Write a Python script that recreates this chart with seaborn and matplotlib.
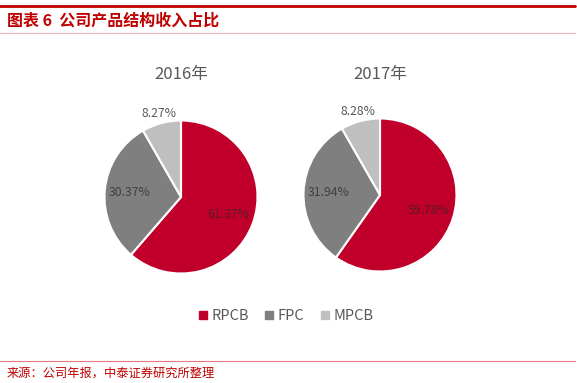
import seaborn as sns
import matplotlib.pyplot as plt
from matplotlib.lines import Line2D
import numpy as np

# Data
years = ["2016年", "2017年"]
segments = ["RPCB", "FPC", "MPCB"]
share_2016 = [61.37, 30.37, 8.27]
share_2017 = [59.78, 31.94, 8.28]

sns.set_theme(style="white")
plt.rcParams['font.family'] = ['Noto Sans CJK SC', 'DejaVu Sans']

colors = ["#C0002A", "#7F7F7F", "#BFBFBF"]
label_colors = ["#5A1A22", "#404040", "#595959"]
label_dist = [0.66, 0.67, 1.13]

W, H = 577, 383
fig = plt.figure(figsize=(W / 100, H / 100), dpi=100)

# pie centers (px from top-left) and radius in px
centers = [(181, 197), (380, 195)]
radius_px = 76.5
lim = 1.3

for year, shares, (cx, cy) in zip(years, [share_2016, share_2017], centers):
    size = 2 * lim * radius_px
    ax = fig.add_axes([(cx - size / 2) / W, (H - cy - size / 2) / H, size / W, size / H])
    wedges, _ = ax.pie(shares, colors=colors, startangle=90, counterclock=False,
                       wedgeprops=dict(edgecolor="white", linewidth=1.5))
    ax.set_xlim(-lim, lim)
    ax.set_ylim(-lim, lim)
    ax.set_aspect("equal")
    ax.axis("off")
    for w, v, d, c in zip(wedges, shares, label_dist, label_colors):
        ang = np.deg2rad((w.theta1 + w.theta2) / 2)
        ax.text(d * np.cos(ang), d * np.sin(ang), f"{v:.2f}%", ha="center", va="center",
                fontsize=8.8, color=c)
    fig.text(cx / W, 1 - 74 / H, year, ha="center", va="center", fontsize=12, color="#595959")

# legend
handles = [Line2D([], [], marker="s", linestyle="", markersize=5.5, color=c) for c in colors]
fig.legend(handles, segments, loc="center", bbox_to_anchor=(0.493, 1 - 316 / H), ncol=3,
           frameon=False, fontsize=10.5, labelcolor="#595959", handletextpad=0.1,
           columnspacing=0.9, handlelength=1.0)

# header / footer decorations
fig.add_artist(Line2D([0, 0.996], [1 - 6 / H] * 2, color="#C00000", lw=2.0))
fig.add_artist(Line2D([0, 0.996], [1 - 32.5 / H] * 2, color="#F0B4BA", lw=0.8))
fig.add_artist(Line2D([0, 0.996], [1 - 360.5 / H] * 2, color="#E8777F", lw=0.8))
fig.text(7 / W, 1 - 20.5 / H, "图表 6  公司产品结构收入占比", ha="left", va="center",
         fontsize=11.5, fontweight="bold", fontstyle="italic", color="#C00000")
fig.text(7 / W, 1 - 373 / H, "来源：公司年报，中泰证券研究所整理", ha="left", va="center",
         fontsize=8.8, color="#C00000")

fig.savefig("out.png", dpi=100)
